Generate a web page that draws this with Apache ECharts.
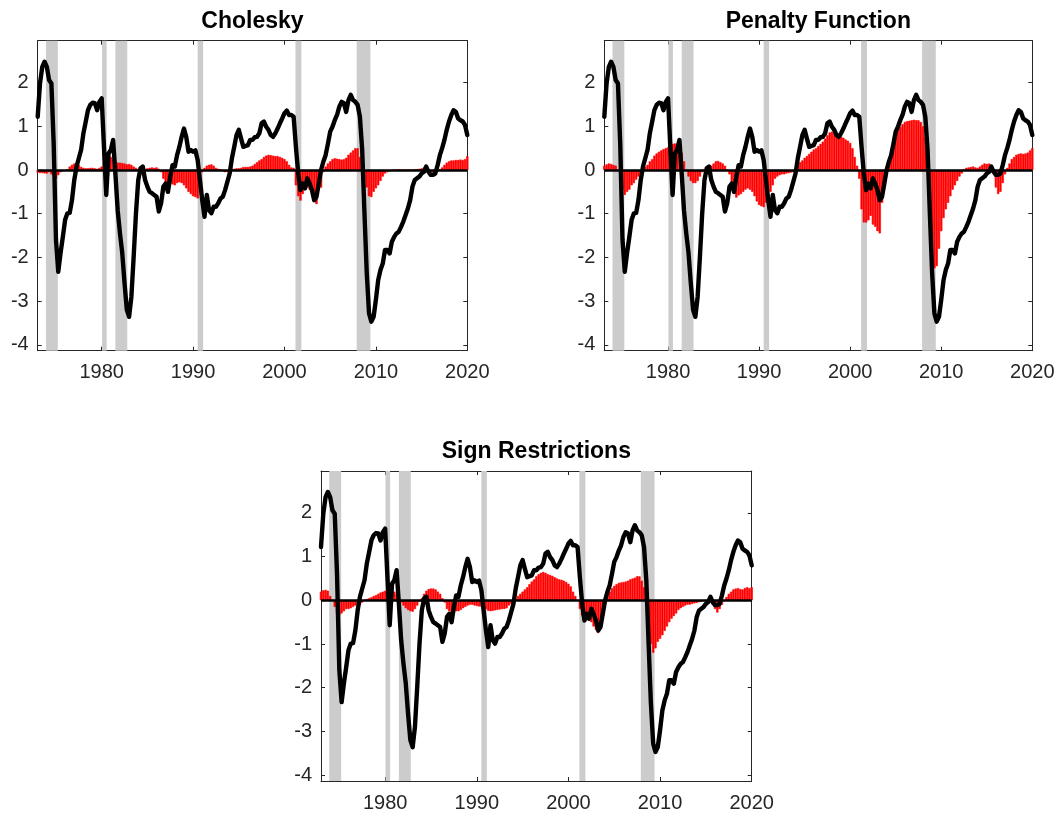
<!DOCTYPE html>
<html>
<head>
<meta charset="utf-8">
<script src="https://cdn.jsdelivr.net/npm/echarts@6/dist/echarts.min.js"></script>
<style>
html,body{margin:0;padding:0;background:#fff;}
#chart{width:1061px;height:814px;}
</style>
</head>
<body>
<div id="chart"></div>
<script>
// Quarterly observations, 1973Q1 ... 2020Q1
const startYear = 1973;
const xTickLabels = [1980, 1990, 2000, 2010, 2020];
const yTickLabels = [-4, -3, -2, -1, 0, 1, 2];
const panelTitles = ['Cholesky', 'Penalty Function', 'Sign Restrictions'];

// NBER recession periods (start, end) in years
const recessions = [
  [1973.9, 1975.2], [1980.04, 1980.54], [1981.5, 1982.8],
  [1990.5, 1991.1], [2001.2, 2001.85], [2007.9, 2009.4]
];

// Black line: activity indicator (same in all panels)
const activity = [
  1.22, 1.98, 2.36, 2.48,   2.36, 2.06, 1.98, 0.60,
  -1.60, -2.33, -1.90, -1.53,  -1.14, -0.99, -0.98, -0.69,
  -0.23, 0.08, 0.27, 0.46,  0.84, 1.10, 1.37, 1.49,
  1.54, 1.53, 1.37, 1.56,   1.64, 0.53, -0.57, 0.38,
  0.46, 0.69, -0.08, -0.92, -1.45, -1.90, -2.59, -3.20,
  -3.36, -2.90, -1.98, -0.99, -0.23, 0.04, 0.08, -0.23,
  -0.38, -0.50, -0.53, -0.57, -0.61, -0.95, -0.76, -0.38,
  -0.31, -0.50, -0.15, 0.11,  0.08, 0.34, 0.53, 0.76,
  0.95, 0.76, 0.42, 0.46,   0.42, 0.45, 0.23, -0.23,
  -0.69, -1.07, -0.57, -0.92, -0.99, -0.84, -0.84, -0.76,
  -0.65, -0.61, -0.46, -0.27, -0.08, 0.27, 0.53, 0.80,
  0.92, 0.72, 0.53, 0.55,   0.57, 0.69, 0.69, 0.75,
  0.76, 0.84, 1.07, 1.11,   0.99, 0.92, 0.80, 0.76,
  0.84, 0.95, 1.07, 1.18,   1.30, 1.36, 1.26, 1.26,
  1.22, 0.53, -0.08, -0.46, -0.31, -0.42, -0.19, -0.31,
  -0.46, -0.69, -0.61, -0.31, 0.00, 0.19, 0.34, 0.60,
  0.88, 0.99, 1.14, 1.26,   1.45, 1.56, 1.53, 1.33,
  1.60, 1.72, 1.60, 1.56,   1.49, 1.22, 0.46, -0.99,
  -2.36, -3.28, -3.47, -3.36, -2.97, -2.52, -2.29, -2.14,
  -1.83, -1.83, -1.91, -1.64, -1.53, -1.45, -1.41, -1.30,
  -1.18, -1.03, -0.88, -0.69, -0.38, -0.23, -0.19, -0.15,
  -0.08, -0.04, 0.08, -0.04, -0.11, -0.11, -0.08, 0.11,
  0.34, 0.50, 0.69, 0.92,   1.11, 1.26, 1.37, 1.33,
  1.18, 1.14, 1.11, 1.03,   0.80
];

// Red bars: shock contribution, Cholesky identification
const cholesky = [
  -0.06, -0.07, -0.07, -0.08, -0.08, -0.05, -0.10, -0.15,
  -0.20, -0.12, -0.05, -0.03, -0.02, 0.02, 0.08, 0.12,
  0.15, 0.15, 0.12, 0.07,   0.05, 0.04, 0.04, 0.05,
  0.05, 0.04, 0.03, 0.05,   0.08, 0.15, 0.25, 0.32,
  0.30, 0.25, 0.20, 0.17,   0.17, 0.16, 0.15, 0.13,
  0.14, 0.12, 0.08, 0.05,   0.02, 0.00, -0.02, 0.02,
  0.04, 0.05, 0.06, 0.05,   0.06, 0.03, -0.05, -0.20,
  -0.30, -0.32, -0.30, -0.33, -0.35, -0.30, -0.28, -0.30,
  -0.35, -0.42, -0.50, -0.55, -0.60, -0.62, -0.65, -0.12,
  -0.05, 0.05, 0.10, 0.12,  0.13, 0.10, 0.05, 0.03,
  0.02, -0.03, -0.05, -0.04, 0.02, 0.03, 0.03, 0.04,
  0.04, 0.05, 0.07, 0.07,   0.07, 0.08, 0.10, 0.14,
  0.18, 0.22, 0.25, 0.30,   0.33, 0.35, 0.34, 0.33,
  0.32, 0.32, 0.30, 0.28,   0.25, 0.20, 0.12, 0.06,
  0.05, -0.35, -0.60, -0.70, -0.55, -0.45, -0.40, -0.45,
  -0.50, -0.70, -0.78, -0.45, -0.40, -0.05, 0.08, 0.15,
  0.20, 0.25, 0.27, 0.26,   0.25, 0.24, 0.25, 0.28,
  0.35, 0.40, 0.45, 0.50,   0.50, 0.30, 0.00, -0.25,
  -0.40, -0.60, -0.62, -0.50, -0.42, -0.35, -0.25, -0.15,
  -0.08, -0.05, -0.03, -0.02, 0.01, 0.01, 0.02, 0.01,
  0.01, 0.00, 0.01, 0.01,   0.01, 0.02, 0.02, 0.03,
  0.04, 0.06, 0.05, -0.02,  -0.05, -0.06, -0.05, -0.02,
  0.01, 0.06, 0.12, 0.17,   0.20, 0.22, 0.22, 0.23,
  0.23, 0.24, 0.23, 0.25,   0.32
];

// Red bars: penalty function identification
const penalty = [
  0.10, 0.13, 0.15, 0.14,   0.12, 0.10, 0.00, -0.10,
  -0.45, -0.57, -0.50, -0.45, -0.35, -0.30, -0.22, -0.15,
  -0.10, -0.05, 0.08, 0.12, 0.20, 0.25, 0.33, 0.38,
  0.42, 0.45, 0.48, 0.50,   0.52, 0.55, 0.60, 0.61,
  0.60, 0.55, 0.40, 0.20,   0.00, -0.15, -0.25, -0.30,
  -0.30, -0.25, -0.15, -0.05, 0.00, 0.03, 0.05, 0.10,
  0.15, 0.20, 0.21, 0.18,   0.15, 0.10, 0.00, -0.10,
  -0.30, -0.55, -0.63, -0.58, -0.55, -0.50, -0.45, -0.42,
  -0.45, -0.50, -0.60, -0.72, -0.80, -0.83, -0.85, -0.75,
  -0.70, -0.50, -0.35, -0.20, -0.15, -0.12, -0.10, -0.10,
  -0.08, -0.07, -0.06, -0.05, 0.03, 0.10, 0.18, 0.22,
  0.28, 0.32, 0.37, 0.42,   0.47, 0.50, 0.55, 0.60,
  0.65, 0.72, 0.80, 0.86,   0.88, 0.86, 0.83, 0.80,
  0.77, 0.74, 0.70, 0.67,   0.62, 0.50, 0.30, 0.10,
  -0.20, -0.90, -1.20, -1.20, -1.15, -1.05, -1.25, -1.30,
  -1.40, -1.45, -0.75, -0.40, -0.10, 0.20, 0.45, 0.62,
  0.80, 0.92, 0.99, 1.05,   1.10, 1.12, 1.13, 1.14,
  1.15, 1.14, 1.14, 1.10,   1.00, 0.75, 0.00, -1.00,
  -1.70, -2.25, -2.20, -1.80, -1.40, -1.10, -0.90, -0.75,
  -0.60, -0.45, -0.35, -0.25, -0.15, -0.08, 0.02, 0.05,
  0.06, 0.07, 0.08, 0.06,   0.05, 0.08, 0.12, 0.15,
  0.14, 0.15, 0.05, -0.05,  -0.40, -0.55, -0.50, -0.30,
  -0.10, 0.05, 0.15, 0.25,  0.30, 0.35, 0.37, 0.38,
  0.37, 0.38, 0.40, 0.45,   0.50
];

// Red bars: sign restrictions identification
const signRestr = [
  0.20, 0.23, 0.24, 0.22,   0.10, 0.00, -0.15, -0.30,
  -0.34, -0.30, -0.25, -0.20, -0.20, -0.18, -0.15, -0.12,
  -0.10, -0.10, -0.05, 0.00, 0.03, 0.05, 0.07, 0.10,
  0.12, 0.15, 0.18, 0.20,   0.22, 0.24, 0.25, 0.24,
  0.20, 0.15, 0.05, -0.05,  -0.12, -0.18, -0.22, -0.25,
  -0.26, -0.20, -0.12, -0.03, 0.05, 0.15, 0.22, 0.26,
  0.27, 0.27, 0.25, 0.20,   0.15, 0.05, -0.05, -0.20,
  -0.25, -0.30, -0.28, -0.25, -0.25, -0.22, -0.18, -0.15,
  -0.12, -0.10, -0.10, -0.12, -0.13, -0.14, -0.15, -0.15,
  -0.20, -0.24, -0.25, -0.24, -0.23, -0.22, -0.21, -0.20,
  -0.20, -0.18, -0.12, -0.08, -0.05, 0.03, 0.10, 0.15,
  0.20, 0.25, 0.30, 0.37,   0.43, 0.48, 0.55, 0.60,
  0.63, 0.65, 0.63, 0.60,   0.58, 0.56, 0.53, 0.50,
  0.48, 0.47, 0.45, 0.42,   0.38, 0.32, 0.20, 0.10,
  0.00, -0.20, -0.35, -0.40, -0.42, -0.45, -0.50, -0.60,
  -0.68, -0.75, -0.60, -0.35, -0.10, 0.10, 0.20, 0.28,
  0.33, 0.37, 0.40, 0.41,   0.42, 0.43, 0.45, 0.48,
  0.50, 0.52, 0.55, 0.55,   0.45, 0.30, -0.10, -0.60,
  -1.00, -1.20, -1.10, -0.95, -0.88, -0.80, -0.70, -0.60,
  -0.50, -0.42, -0.36, -0.30, -0.22, -0.18, -0.15, -0.12,
  -0.10, -0.10, -0.08, -0.07, -0.06, -0.04, -0.03, -0.02,
  0.00, 0.03, 0.02, -0.10,  -0.20, -0.28, -0.20, -0.10,
  0.00, 0.08, 0.15, 0.20,   0.25, 0.27, 0.28, 0.26,
  0.25, 0.28, 0.30, 0.28,   0.30
];

const dates = activity.map((_, i) => startYear + i / 4);
const pair = arr => arr.map((v, i) => [dates[i], v]);

const panels = [
  { title: panelTitles[0], bars: cholesky,  grid: { left: 37.7, top: 40.7, width: 429.6, height: 310 } },
  { title: panelTitles[1], bars: penalty,   grid: { left: 604.3, top: 40.7, width: 428, height: 310 } },
  { title: panelTitles[2], bars: signRestr, grid: { left: 321, top: 471, width: 430.7, height: 310 } }
];

const FONT = 'Liberation Sans, Arial, Helvetica, sans-serif';
const AX = '#262626';
const XMIN = 1973, XMAX = 2020, YMIN = -4.135, YMAX = 2.96;

const option = {
  animation: false,
  backgroundColor: '#ffffff',
  title: [], grid: [], xAxis: [], yAxis: [], series: []
};

panels.forEach((p, k) => {
  const g = p.grid;
  option.grid.push({ left: g.left, top: g.top, width: g.width, height: g.height, containLabel: false, show: false });
  option.title.push({
    text: p.title, left: g.left + g.width / 2, top: g.top - 30.5, textAlign: 'center', padding: 0,
    textStyle: { fontFamily: FONT, fontSize: 23, fontWeight: 'bold', color: '#000' }
  });
  const baseX = { type: 'value', gridIndex: k, min: XMIN, max: XMAX, splitLine: { show: false },
    axisLine: { show: true, onZero: false, lineStyle: { color: AX, width: 1 } } };
  option.xAxis.push(Object.assign({}, baseX, {
    position: 'bottom',
    axisTick: { show: true, inside: true, length: 4, lineStyle: { color: AX }, customValues: xTickLabels },
    axisLabel: { show: true, margin: 12, color: AX, fontSize: 20, fontFamily: FONT,
      customValues: xTickLabels, formatter: v => String(Math.round(v)) }
  }));
  option.xAxis.push(Object.assign({}, baseX, {
    position: 'top',
    axisTick: { show: true, inside: true, length: 4, lineStyle: { color: AX }, customValues: xTickLabels },
    axisLabel: { show: false }
  }));
  const baseY = { type: 'value', gridIndex: k, min: YMIN, max: YMAX, splitLine: { show: false },
    axisLine: { show: true, onZero: false, lineStyle: { color: AX, width: 1 } } };
  option.yAxis.push(Object.assign({}, baseY, {
    position: 'left',
    axisTick: { show: true, inside: true, length: 4, lineStyle: { color: AX }, customValues: yTickLabels },
    axisLabel: { show: true, margin: 9, color: AX, fontSize: 20, fontFamily: FONT,
      customValues: yTickLabels, formatter: v => String(Math.round(v)) }
  }));
  option.yAxis.push(Object.assign({}, baseY, {
    position: 'right',
    axisTick: { show: true, inside: true, length: 4, lineStyle: { color: AX }, customValues: yTickLabels },
    axisLabel: { show: false }
  }));

  option.series.push({
    type: 'bar', xAxisIndex: 2 * k, yAxisIndex: 2 * k, z: 2,
    data: pair(p.bars), barWidth: '100%',
    itemStyle: { color: '#ff0000', borderColor: '#ff0000', borderWidth: 0.6 },
    silent: true,
    markArea: {
      silent: true,
      itemStyle: { color: '#cccccc' },
      label: { show: false },
      data: recessions.map(r => [{ xAxis: r[0] }, { xAxis: r[1] }])
    },
    markLine: {
      silent: true, symbol: ['none', 'none'],
      label: { show: false },
      lineStyle: { color: '#000', width: 2.6, type: 'solid' },
      data: [{ yAxis: 0 }]
    }
  });
  option.series.push({
    type: 'line', xAxisIndex: 2 * k, yAxisIndex: 2 * k, z: 10,
    data: pair(activity), showSymbol: false, symbol: 'none', silent: true,
    lineStyle: { color: '#000', width: 4.4, join: 'round', cap: 'round' }
  });
});

const chart = echarts.init(document.getElementById('chart'), null, { renderer: 'canvas' });
chart.setOption(option);
</script>
</body>
</html>
